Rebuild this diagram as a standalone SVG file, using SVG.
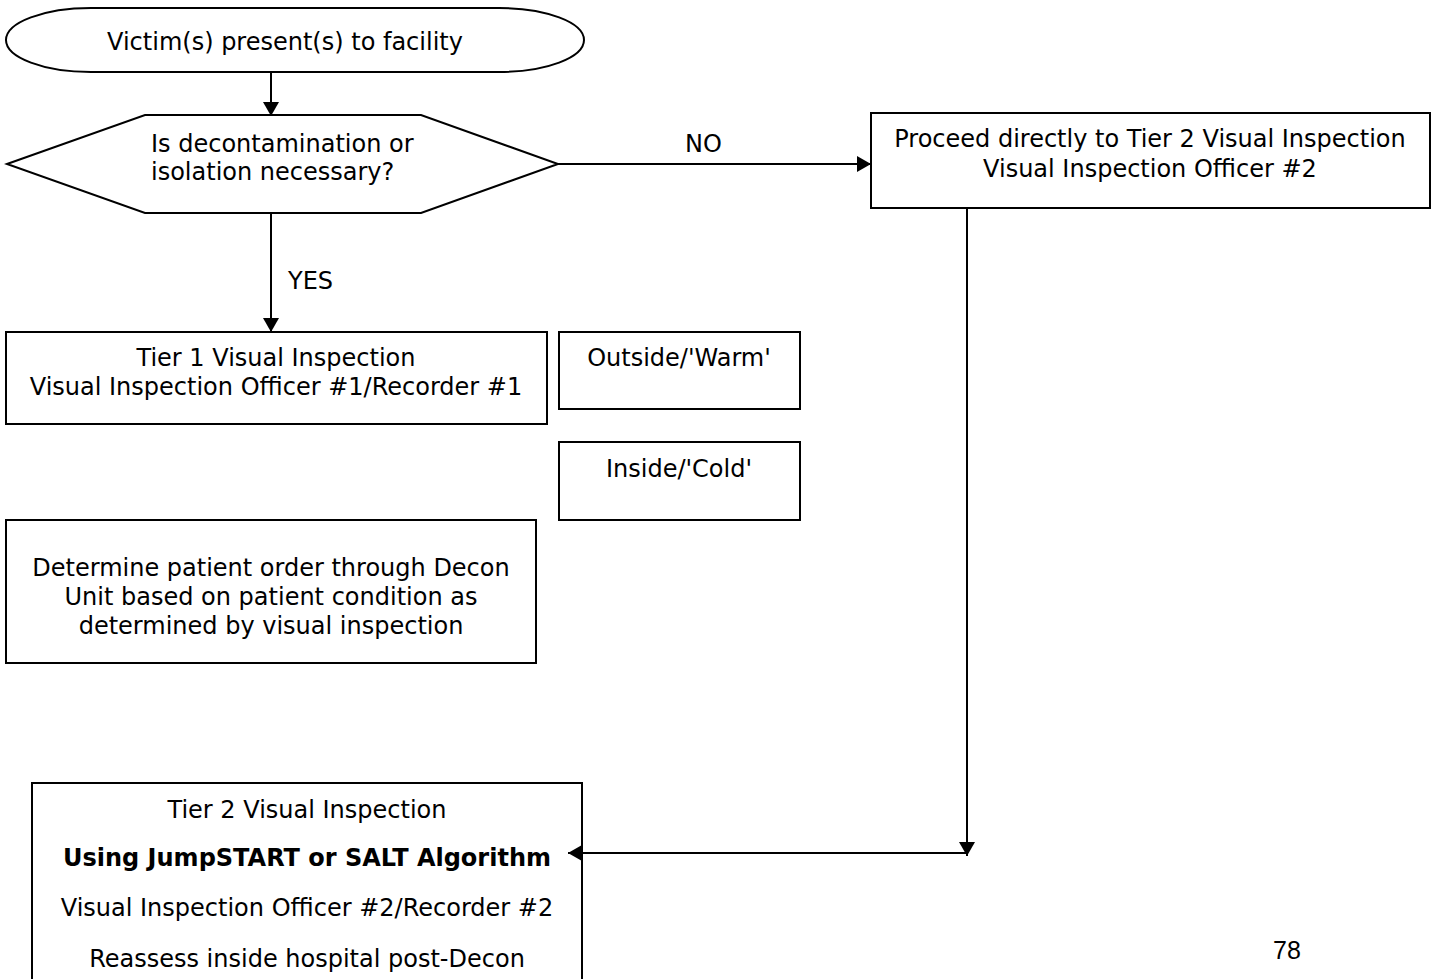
<svg xmlns="http://www.w3.org/2000/svg" width="1440" height="979" viewBox="0 0 1440 979">
<style>
.s{fill:#fff;stroke:#000;stroke-width:2}
.t{font-family:"DejaVu Sans",Verdana,sans-serif;font-size:24px;fill:#000}
.c{text-anchor:middle}
.b{font-weight:bold}
.ln{fill:none;stroke:#000;stroke-width:2}
</style>
<defs>
<marker id="ah" viewBox="0 0 14 16" refX="14" refY="8" markerWidth="14" markerHeight="16" markerUnits="userSpaceOnUse" orient="auto">
<path d="M0,0 L14,8 L0,16 Z" fill="#000"/>
</marker>
</defs>
<rect width="1440" height="979" fill="#fff"/>
<g id="start">
<rect class="s" x="6" y="8" width="578" height="64" rx="85" ry="32"/>
<text class="t c" x="285" y="50">Victim(s) present(s) to facility</text>
</g>
<g id="decision">
<polygon class="s" points="7,164 145,115 421,115 558,164 421,213 145,213"/>
<text class="t" x="151" y="152">Is decontamination or</text>
<text class="t" x="151" y="180">isolation necessary?</text>
</g>
<g id="proceed">
<rect class="s" x="871" y="113" width="559" height="95"/>
<text class="t c" x="1150" y="147">Proceed directly to Tier 2 Visual Inspection</text>
<text class="t c" x="1150" y="177">Visual Inspection Officer #2</text>
</g>
<g id="tier1">
<rect class="s" x="6" y="332" width="541" height="92"/>
<text class="t c" x="276" y="366">Tier 1 Visual Inspection</text>
<text class="t c" x="276" y="395">Visual Inspection Officer #1/Recorder #1</text>
</g>
<g id="outside">
<rect class="s" x="559" y="332" width="241" height="77"/>
<text class="t c" x="679" y="366">Outside/'Warm'</text>
</g>
<g id="inside">
<rect class="s" x="559" y="442" width="241" height="78"/>
<text class="t c" x="679" y="477">Inside/'Cold'</text>
</g>
<g id="determine">
<rect class="s" x="6" y="520" width="530" height="143"/>
<text class="t c" x="271" y="576">Determine patient order through Decon</text>
<text class="t c" x="271" y="605">Unit based on patient condition as</text>
<text class="t c" x="271" y="634">determined by visual inspection</text>
</g>
<g id="tier2">
<rect class="s" x="32" y="783" width="550" height="210"/>
<text class="t c" x="307" y="818">Tier 2 Visual Inspection</text>
<text class="t c b" x="307" y="866">Using JumpSTART or SALT Algorithm</text>
<text class="t c" x="307" y="916">Visual Inspection Officer #2/Recorder #2</text>
<text class="t c" x="307" y="967">Reassess inside hospital post-Decon</text>
</g>
<g id="connectors">
<line class="ln" x1="271" y1="72" x2="271" y2="116" marker-end="url(#ah)"/>
<line class="ln" x1="558" y1="164" x2="871" y2="164" marker-end="url(#ah)"/>
<line class="ln" x1="271" y1="213" x2="271" y2="332" marker-end="url(#ah)"/>
<line class="ln" x1="967" y1="208" x2="967" y2="856" marker-end="url(#ah)"/>
<line class="ln" x1="967" y1="853" x2="568" y2="853" marker-end="url(#ah)"/>
<text class="t" x="685" y="152">NO</text>
<text class="t" x="288" y="289">YES</text>
</g>
<text x="1273" y="959" style="font-family:'Liberation Sans',Arial,sans-serif;font-size:25px">78</text>
</svg>
